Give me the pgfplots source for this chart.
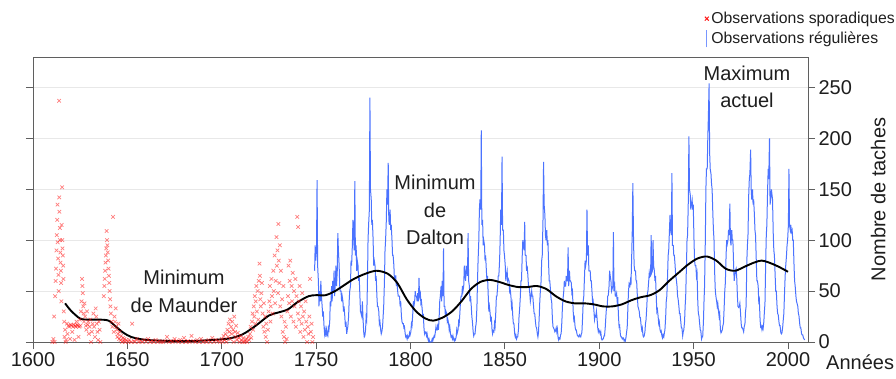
\documentclass[border=0pt]{standalone}
\usepackage{pgfplots}
\pgfplotsset{compat=1.18}
\usepackage{fontspec}
\setmainfont{Liberation Sans}
\definecolor{sporad}{RGB}{255,20,20}
\definecolor{regul}{RGB}{30,80,255}
\definecolor{axgray}{RGB}{95,95,95}
\definecolor{gridgray}{RGB}{232,232,232}
\definecolor{txt}{RGB}{30,30,30}
\begin{document}
\begin{tikzpicture}
\begin{axis}[
  name=ax,
  scale only axis,
  width=775pt, height=285pt,
  xmin=1600, xmax=2010.6, ymin=0, ymax=280,
  axis line style={axgray, line width=0.9pt},
  xtick={1600,1650,...,2000},
  ytick={0,50,...,250},
  xtick pos=bottom,
  ytick pos=both,
  yticklabel pos=right,
  tick align=outside,
  major tick length=7pt,
  tick style={axgray, line width=0.8pt},
  ymajorgrids, grid style={gridgray, line width=0.7pt},
  /pgf/number format/1000 sep={},
  /pgf/number format/assume math mode=true,
  tick label style={font=\fontsize{20}{24}\selectfont, text=txt},
  ylabel={Nombre de taches},
  every axis y label/.style={at={(axis description cs:1.0905,0.5)}, anchor=center, rotate=90, font=\fontsize{20}{24}\selectfont, text=txt},
  legend style={at={(axis description cs:0.866,1.165)}, anchor=north west, draw=none, fill=none, inner sep=0pt, font=\fontsize{15.8}{17}\selectfont, row sep=2pt, text=txt},
  legend cell align=left,
]
\addlegendimage{legend image code/.code={\draw[sporad, line width=1pt] (0.1cm,-0.07cm) -- (0.24cm,0.07cm) (0.1cm,0.07cm) -- (0.24cm,-0.07cm);}}
\addlegendentry{Observations sporadiques}
\addlegendimage{legend image code/.code={\draw[regul!60, line width=1.1pt] (0.17cm,-0.3cm) -- (0.17cm,0.32cm);}}
\addlegendentry{Observations régulières}

% sporadic observations
\addplot[only marks, mark=x, mark size=2.5pt, sporad, mark options={opacity=0.55, line width=0.7pt}, forget plot] coordinates {
(1610.3,0)(1610.8,3)(1611.2,25)(1611.5,0)(1611.7,45)(1612.0,60)(1612.2,72)(1612.4,90)(1612.6,105)(1612.8,120)(1613.0,135)(1613.1,98)(1613.3,82)(1613.5,66)(1613.6,50)(1613.8,237)(1613.9,142)(1614.0,128)(1614.2,112)(1614.3,100)(1614.5,88)(1614.6,78)(1614.8,70)(1614.9,58)(1615.0,40)(1615.2,115)(1615.4,152)(1615.5,100)(1615.6,92)(1615.8,85)(1616.0,75)(1616.1,62)(1616.3,30)(1616.5,20)(1616.7,5)(1617.0,12)(1617.3,0)(1617.6,2)(1618,18)(1618.3,8)
(1618.7,16)(1619.2,15)(1619.6,3)(1620,17)(1620.4,16)(1620.8,10)(1621.2,15)(1621.6,17)(1622,2)(1622.3,16)(1622.7,15)(1623,20)(1623.4,17)(1623.8,16)(1624.1,5)(1624.5,15)(1624.8,22)(1625.1,16)(1625.4,30)(1625.7,40)(1626,62)(1626.2,55)(1626.4,48)(1626.6,35)(1626.8,28)(1627,20)(1627.3,38)(1627.6,25)(1628,16)(1628.3,12)(1628.6,30)(1629,17)(1629.3,20)(1629.6,8)(1630,15)(1630.4,22)(1630.8,0)(1631.2,10)(1631.6,18)(1632,28)(1632.4,15)(1632.8,5)(1633.2,33)(1633.5,25)(1633.8,18)(1634.2,10)(1634.5,2)(1634.9,20)(1635.3,12)(1635.7,0)
(1637.5,45)(1637.8,55)(1638.0,62)(1638.2,70)(1638.4,78)(1638.6,85)(1638.8,92)(1639.0,109)(1639.2,100)(1639.4,95)(1639.6,88)(1639.8,80)(1640,72)(1640.2,65)(1640.4,58)(1640.6,50)(1640.8,42)(1641,35)(1641.3,28)(1641.6,20)(1642.0,15)(1642.4,123)
(1642.8,10)(1643.2,25)(1643.5,20)(1643.8,33)(1644.1,15)(1644.4,12)(1644.7,5)(1645,8)(1645.3,18)(1645.6,3)(1646,10)(1646.4,2)(1646.8,6)(1647.2,0)(1647.6,4)(1648,1)(1648.5,3)(1649,0)(1649.5,2)
(1650.5,0)(1651,2)(1652,0)(1652.5,18)(1653.5,1)(1654,0)(1655,3)(1656,0)(1657,1)(1658,0)(1659,2)(1660,0)(1661,3)(1662,0)(1663,1)(1664,0)(1665,2)(1666,0)(1667,1)(1668,0)(1669,0)(1670,1)(1671,5)(1672,0)(1673,1)(1674,0)(1675,3)(1676,1)(1677,0)(1678,2)(1679,0)(1680,4)(1681,0)(1682,1)(1683,0)(1684,6)(1685,1)(1686,0)(1687,2)(1688,0)(1689,3)(1690,0)(1691,1)(1692,0)(1693,2)(1694,0)(1695,4)(1696,0)(1697,2)(1698,1)(1699,0)
(1700,3)(1700.5,0)(1701,6)(1701.5,2)(1702,8)(1702.5,0)(1703,12)(1703.3,5)(1703.6,18)(1704,10)(1704.3,22)(1704.6,3)(1705,15)(1705.3,8)(1705.6,20)(1706,12)(1706.3,0)(1706.6,25)(1707,10)(1707.3,5)(1707.6,16)(1708,2)(1708.5,9)(1709,4)(1709.5,0)(1710,6)(1710.5,2)(1711,0)(1711.5,4)(1712,0)(1712.5,1)(1713,3)(1713.5,0)(1714,5)(1714.5,2)
(1715,8)(1715.3,15)(1715.6,4)(1716,20)(1716.3,28)(1716.6,12)(1717,35)(1717.2,25)(1717.5,45)(1717.8,18)(1718,40)(1718.3,55)(1718.6,30)(1719,50)(1719.3,22)(1719.6,60)(1720,77)(1720.2,65)(1720.4,42)(1720.7,35)(1721,48)(1721.3,58)(1721.6,28)(1722,15)(1722.3,38)(1722.6,10)(1723,25)(1723.3,5)(1723.6,18)(1724,0)(1724.4,12)(1724.8,30)
(1725.2,40)(1725.5,55)(1725.8,20)(1726,35)(1726.3,62)(1726.6,45)(1727,28)(1727.3,70)(1727.6,50)(1728,85)(1728.3,38)(1728.6,60)(1729,103)(1729.2,75)(1729.5,90)(1729.8,48)(1730,116)(1730.2,80)(1730.5,58)(1730.8,95)(1731,35)(1731.3,70)(1731.6,25)(1732,42)(1732.3,10)(1732.6,55)(1733,5)(1733.3,20)(1733.6,0)(1734,15)(1734.4,3)
(1734.8,30)(1735.1,45)(1735.4,75)(1735.7,38)(1736,60)(1736.3,80)(1736.6,25)(1737,55)(1737.3,40)(1737.6,68)(1738,20)(1738.3,50)(1738.6,35)(1739,62)(1739.3,15)(1739.6,45)(1740,123)(1740.3,28)(1740.5,113)(1740.8,40)(1741,22)(1741.3,55)(1741.6,10)(1742,35)(1742.3,18)(1742.6,48)(1743,25)(1743.3,5)(1743.6,30)(1744,12)(1744.4,40)(1744.8,20)(1745.2,0)(1745.6,15)(1746,8)(1746.4,25)(1746.8,62)(1747.2,10)(1747.6,18)(1748,0)(1748.4,5)
};

% regular observations
\addplot[regul, line width=1.0pt, opacity=0.8, forget plot] table[row sep=\\] {
t v\\
1749.2 70\\1749.5 95\\1749.8 80\\
1750.2 90\\1750.5 159\\1750.8 75\\
1751.2 60\\1751.5 35\\1751.8 50\\
1752.2 40\\1752.5 60\\1752.8 45\\
1753.2 35\\1753.5 25\\1753.8 30\\
1754.2 15\\1754.5 8\\1754.8 12\\
1755.2 5\\1755.5 12\\1755.8 8\\
1756.2 6\\1756.5 14\\1756.8 12\\
1757.2 20\\1757.5 40\\1757.8 35\\
1758.2 55\\1758.5 40\\1758.8 60\\
1759.2 50\\1759.5 70\\1759.8 45\\
1760.2 60\\1760.5 75\\1760.8 55\\
1761.2 70\\1761.5 107\\1761.8 90\\
1762.2 75\\1762.5 55\\1762.8 50\\
1763.2 50\\1763.5 40\\1763.8 45\\
1764.2 40\\1764.5 30\\1764.8 35\\
1765.2 25\\1765.5 15\\1765.8 20\\
1766.2 8\\1766.5 12\\1766.8 15\\
1767.2 25\\1767.5 40\\1767.8 50\\
1768.2 55\\1768.5 80\\1768.8 75\\
1769.2 95\\1769.5 120\\1769.8 105\\
1770.2 90\\1770.5 158\\1770.8 85\\
1771.2 95\\1771.5 70\\1771.8 80\\
1772.2 75\\1772.5 60\\1772.8 65\\
1773.2 45\\1773.5 30\\1773.8 28\\
1774.2 25\\1774.5 40\\1774.8 25\\
1775.2 10\\1775.5 5\\1775.8 6\\
1776.2 12\\1776.5 25\\1776.8 22\\
1777.2 60\\1777.5 100\\1777.8 115\\
1778.2 130\\1778.5 240\\1778.8 150\\
1779.2 140\\1779.5 115\\1779.8 120\\
1780.2 100\\1780.5 75\\1780.8 80\\
1781.2 75\\1781.5 60\\1781.8 65\\
1782.2 45\\1782.5 35\\1782.8 35\\
1783.2 30\\1783.5 18\\1783.8 20\\
1784.2 12\\1784.5 8\\1784.8 10\\
1785.2 15\\1785.5 25\\1785.8 35\\
1786.2 60\\1786.5 90\\1786.8 100\\
1787.2 120\\1787.5 150\\1787.8 135\\
1788.2 176\\1788.5 120\\1788.8 115\\
1789.2 130\\1789.5 110\\1789.8 115\\
1790.2 100\\1790.5 85\\1790.8 85\\
1791.2 75\\1791.5 60\\1791.8 65\\
1792.2 65\\1792.5 55\\1792.8 60\\
1793.2 50\\1793.5 45\\1793.8 45\\
1794.2 45\\1794.5 35\\1794.8 40\\
1795.2 25\\1795.5 20\\1795.8 18\\
1796.2 18\\1796.5 14\\1796.8 15\\
1797.2 8\\1797.5 5\\1797.8 6\\
1798.2 3\\1798.5 6\\1798.8 4\\
1799.2 5\\1799.5 9\\1799.8 7\\
1800.2 10\\1800.5 18\\1800.8 16\\
1801.2 28\\1801.5 40\\1801.8 35\\
1802.2 40\\1802.5 50\\1802.8 45\\
1803.2 45\\1803.5 40\\1803.8 48\\
1804.2 40\\1804.5 63\\1804.8 45\\
1805.2 48\\1805.5 38\\1805.8 40\\
1806.2 32\\1806.5 25\\1806.8 26\\
1807.2 12\\1807.5 8\\1807.8 10\\
1808.2 10\\1808.5 6\\1808.8 8\\
1809.2 3\\1809.5 1\\1809.8 3\\
1810.2 0\\1810.5 0\\1810.8 0\\
1811.2 1\\1811.5 3\\1811.8 1\\
1812.2 4\\1812.5 6\\1812.8 5\\
1813.2 10\\1813.5 15\\1813.8 12\\
1814.2 12\\1814.5 18\\1814.8 12\\
1815.2 25\\1815.5 40\\1815.8 45\\
1816.2 55\\1816.5 40\\1816.8 60\\
1817.2 45\\1817.5 92\\1817.8 35\\
1818.2 35\\1818.5 25\\1818.8 30\\
1819.2 28\\1819.5 20\\1819.8 22\\
1820.2 18\\1820.5 12\\1820.8 15\\
1821.2 8\\1821.5 5\\1821.8 6\\
1822.2 3\\1822.5 6\\1822.8 3\\
1823.2 1\\1823.5 3\\1823.8 2\\
1824.2 5\\1824.5 12\\1824.8 9\\
1825.2 12\\1825.5 20\\1825.8 18\\
1826.2 30\\1826.5 40\\1826.8 45\\
1827.2 45\\1827.5 55\\1827.8 50\\
1828.2 55\\1828.5 75\\1828.8 65\\
1829.2 60\\1829.5 75\\1829.8 70\\
1830.2 65\\1830.5 107\\1830.8 60\\
1831.2 55\\1831.5 40\\1831.8 45\\
1832.2 35\\1832.5 25\\1832.8 20\\
1833.2 10\\1833.5 6\\1833.8 8\\
1834.2 8\\1834.5 15\\1834.8 18\\
1835.2 35\\1835.5 60\\1835.8 80\\
1836.2 100\\1836.5 130\\1836.8 140\\
1837.2 130\\1837.5 208\\1837.8 115\\
1838.2 120\\1838.5 95\\1838.8 100\\
1839.2 95\\1839.5 80\\1839.8 85\\
1840.2 70\\1840.5 60\\1840.8 65\\
1841.2 45\\1841.5 30\\1841.8 35\\
1842.2 28\\1842.5 20\\1842.8 25\\
1843.2 12\\1843.5 8\\1843.8 11\\
1844.2 10\\1844.5 18\\1844.8 15\\
1845.2 30\\1845.5 45\\1845.8 45\\
1846.2 55\\1846.5 65\\1846.8 65\\
1847.2 80\\1847.5 100\\1847.8 130\\
1848.2 115\\1848.5 182\\1848.8 110\\
1849.2 110\\1849.5 90\\1849.8 85\\
1850.2 75\\1850.5 60\\1850.8 65\\
1851.2 70\\1851.5 60\\1851.8 62\\
1852.2 60\\1852.5 50\\1852.8 52\\
1853.2 45\\1853.5 35\\1853.8 38\\
1854.2 25\\1854.5 18\\1854.8 18\\
1855.2 8\\1855.5 5\\1855.8 7\\
1856.2 3\\1856.5 5\\1856.8 5\\
1857.2 12\\1857.5 25\\1857.8 32\\
1858.2 45\\1858.5 60\\1858.8 60\\
1859.2 85\\1859.5 100\\1859.8 95\\
1860.2 90\\1860.5 118\\1860.8 85\\
1861.2 85\\1861.5 70\\1861.8 75\\
1862.2 65\\1862.5 55\\1862.8 55\\
1863.2 48\\1863.5 40\\1863.8 44\\
1864.2 50\\1864.5 45\\1864.8 45\\
1865.2 35\\1865.5 28\\1865.8 28\\
1866.2 20\\1866.5 15\\1866.8 14\\
1867.2 8\\1867.5 5\\1867.8 9\\
1868.2 25\\1868.5 40\\1868.8 50\\
1869.2 60\\1869.5 80\\1869.8 85\\
1870.2 120\\1870.5 177\\1870.8 135\\
1871.2 125\\1871.5 105\\1871.8 100\\
1872.2 110\\1872.5 95\\1872.8 100\\
1873.2 75\\1873.5 60\\1873.8 60\\
1874.2 50\\1874.5 42\\1874.8 40\\
1875.2 22\\1875.5 15\\1875.8 14\\
1876.2 12\\1876.5 10\\1876.8 11\\
1877.2 14\\1877.5 10\\1877.8 13\\
1878.2 4\\1878.5 2\\1878.8 4\\
1879.2 3\\1879.5 7\\1879.8 8\\
1880.2 20\\1880.5 35\\1880.8 42\\
1881.2 50\\1881.5 60\\1881.8 55\\
1882.2 55\\1882.5 65\\1882.8 60\\
1883.2 60\\1883.5 93\\1883.8 55\\
1884.2 70\\1884.5 60\\1884.8 60\\
1885.2 58\\1885.5 48\\1885.8 50\\
1886.2 30\\1886.5 22\\1886.8 24\\
1887.2 15\\1887.5 12\\1887.8 12\\
1888.2 8\\1888.5 6\\1888.8 6\\
1889.2 5\\1889.5 7\\1889.8 6\\
1890.2 5\\1890.5 8\\1890.8 9\\
1891.2 25\\1891.5 40\\1891.8 45\\
1892.2 65\\1892.5 80\\1892.8 75\\
1893.2 80\\1893.5 130\\1893.8 85\\
1894.2 95\\1894.5 70\\1894.8 70\\
1895.2 70\\1895.5 60\\1895.8 60\\
1896.2 48\\1896.5 38\\1896.8 40\\
1897.2 30\\1897.5 22\\1897.8 26\\
1898.2 25\\1898.5 30\\1898.8 24\\
1899.2 14\\1899.5 10\\1899.8 12\\
1900.2 10\\1900.5 8\\1900.8 10\\
1901.2 3\\1901.5 2\\1901.8 3\\
1902.2 3\\1902.5 6\\1902.8 6\\
1903.2 15\\1903.5 25\\1903.8 33\\
1904.2 35\\1904.5 45\\1904.8 46\\
1905.2 55\\1905.5 70\\1905.8 65\\
1906.2 60\\1906.5 50\\1906.8 52\\
1907.2 55\\1907.5 108\\1907.8 50\\
1908.2 55\\1908.5 45\\1908.8 45\\
1909.2 48\\1909.5 40\\1909.8 44\\
1910.2 25\\1910.5 15\\1910.8 16\\
1911.2 7\\1911.5 5\\1911.8 5\\
1912.2 3\\1912.5 4\\1912.8 4\\
1913.2 1\\1913.5 2\\1913.8 1\\
1914.2 5\\1914.5 10\\1914.8 14\\
1915.2 35\\1915.5 50\\1915.8 57\\
1916.2 55\\1916.5 60\\1916.8 56\\
1917.2 85\\1917.5 110\\1917.8 156\\
1918.2 95\\1918.5 75\\1918.8 70\\
1919.2 70\\1919.5 60\\1919.8 60\\
1920.2 45\\1920.5 35\\1920.8 33\\
1921.2 30\\1921.5 24\\1921.8 24\\
1922.2 16\\1922.5 12\\1922.8 14\\
1923.2 6\\1923.5 5\\1923.8 6\\
1924.2 10\\1924.5 18\\1924.8 22\\
1925.2 35\\1925.5 48\\1925.8 50\\
1926.2 60\\1926.5 68\\1926.8 64\\
1927.2 65\\1927.5 105\\1927.8 68\\
1928.2 70\\1928.5 100\\1928.8 75\\
1929.2 70\\1929.5 60\\1929.8 65\\
1930.2 45\\1930.5 30\\1930.8 32\\
1931.2 25\\1931.5 18\\1931.8 20\\
1932.2 12\\1932.5 10\\1932.8 11\\
1933.2 6\\1933.5 4\\1933.8 7\\
1934.2 5\\1934.5 9\\1934.8 12\\
1935.2 25\\1935.5 40\\1935.8 45\\
1936.2 65\\1936.5 85\\1936.8 90\\
1937.2 110\\1937.5 125\\1937.8 110\\
1938.2 105\\1938.5 166\\1938.8 95\\
1939.2 95\\1939.5 85\\1939.8 85\\
1940.2 75\\1940.5 65\\1940.8 62\\
1941.2 55\\1941.5 45\\1941.8 42\\
1942.2 35\\1942.5 28\\1942.8 28\\
1943.2 20\\1943.5 14\\1943.8 14\\
1944.2 6\\1944.5 10\\1944.8 12\\
1945.2 20\\1945.5 35\\1945.8 45\\
1946.2 75\\1946.5 100\\1946.8 105\\
1947.2 140\\1947.5 202\\1947.8 150\\
1948.2 145\\1948.5 130\\1948.8 135\\
1949.2 140\\1949.5 130\\1949.8 135\\
1950.2 100\\1950.5 80\\1950.8 75\\
1951.2 75\\1951.5 65\\1951.8 68\\
1952.2 40\\1952.5 28\\1952.8 26\\
1953.2 18\\1953.5 12\\1953.8 11\\
1954.2 3\\1954.5 5\\1954.8 5\\
1955.2 20\\1955.5 40\\1955.8 55\\
1956.2 100\\1956.5 150\\1956.8 170\\
1957.2 170\\1957.5 200\\1957.8 220\\
1958.2 254\\1958.5 185\\1958.8 170\\
1959.2 165\\1959.5 155\\1959.8 150\\
1960.2 125\\1960.5 110\\1960.8 100\\
1961.2 65\\1961.5 50\\1961.8 45\\
1962.2 40\\1962.5 35\\1962.8 38\\
1963.2 30\\1963.5 25\\1963.8 28\\
1964.2 12\\1964.5 9\\1964.8 10\\
1965.2 12\\1965.5 16\\1965.8 18\\
1966.2 35\\1966.5 50\\1966.8 58\\
1967.2 85\\1967.5 100\\1967.8 96\\
1968.2 100\\1968.5 110\\1968.8 105\\
1969.2 136\\1969.5 100\\1969.8 95\\
1970.2 110\\1970.5 100\\1970.8 100\\
1971.2 75\\1971.5 60\\1971.8 65\\
1972.2 70\\1972.5 72\\1972.8 65\\
1973.2 45\\1973.5 35\\1973.8 34\\
1974.2 35\\1974.5 38\\1974.8 30\\
1975.2 18\\1975.5 14\\1975.8 14\\
1976.2 12\\1976.5 10\\1976.8 15\\
1977.2 18\\1977.5 30\\1977.8 35\\
1978.2 80\\1978.5 95\\1978.8 105\\
1979.2 145\\1979.5 160\\1979.8 165\\
1980.2 189\\1980.5 150\\1980.8 140\\
1981.2 150\\1981.5 135\\1981.8 140\\
1982.2 125\\1982.5 110\\1982.8 105\\
1983.2 80\\1983.5 60\\1983.8 60\\
1984.2 55\\1984.5 40\\1984.8 42\\
1985.2 22\\1985.5 15\\1985.8 16\\
1986.2 12\\1986.5 15\\1986.8 13\\
1987.2 20\\1987.5 30\\1987.8 38\\
1988.2 80\\1988.5 105\\1988.8 115\\
1989.2 150\\1989.5 170\\1989.8 160\\
1990.2 200\\1990.5 135\\1990.8 140\\
1991.2 150\\1991.5 145\\1991.8 140\\
1992.2 105\\1992.5 90\\1992.8 85\\
1993.2 65\\1993.5 50\\1993.8 50\\
1994.2 35\\1994.5 28\\1994.8 27\\
1995.2 20\\1995.5 16\\1995.8 16\\
1996.2 9\\1996.5 8\\1996.8 9\\
1997.2 15\\1997.5 22\\1997.8 28\\
1998.2 50\\1998.5 65\\1998.8 75\\
1999.2 85\\1999.5 95\\1999.8 100\\
2000.2 115\\2000.5 170\\2000.8 115\\
2001.2 110\\2001.5 115\\2001.8 108\\
2002.2 110\\2002.5 100\\2002.8 100\\
2003.2 75\\2003.5 60\\2003.8 55\\
2004.2 45\\2004.5 40\\2004.8 38\\
2005.2 35\\2005.5 28\\2005.8 26\\
2006.2 18\\2006.5 14\\2006.8 14\\
2007.2 8\\2007.5 7\\2007.8 7\\
2008.2 4\\2008.5 3\\2008.8 2\\
};

% smoothed mean
\addplot[black, line width=1.9pt, smooth, forget plot] coordinates {
(1617,38)(1620,31)(1625,23)(1630,22)(1635,22)(1640,21)(1644,15)(1648,9)(1652,5)(1658,2.5)(1665,1.5)(1675,1)(1685,1)(1695,2)(1704,3.5)(1711,7.5)(1718,16)(1725,26)(1730,29)(1735,32)(1740,39)(1746,45)(1750,46)(1755,46)(1760,50)(1765,56)(1770,62)(1776,67)(1782,70)(1788,67)(1793,58)(1798,42)(1803,30)(1808,23)(1812,21)(1817,24)(1822,30)(1827,40)(1832,52)(1837,59)(1842,61)(1847,59)(1852,56)(1857,54)(1862,54)(1867,55)(1872,52)(1877,45)(1882,40)(1887,38)(1892,38)(1897,37)(1902,35)(1907,35)(1912,37)(1917,41)(1922,44)(1927,46)(1932,51)(1937,60)(1942,68)(1947,76)(1952,82)(1957,84)(1962,80)(1967,72)(1972,70)(1977,74)(1982,78)(1986,80)(1990,78)(1995,74)(2000,69)
};
\end{axis}
\node[align=center, font=\fontsize{20}{28}\selectfont, text=txt] at ([xshift=151pt, yshift=51pt]ax.south west) {Minimum\\de Maunder};
\node[align=center, font=\fontsize{20}{27.5}\selectfont, text=txt] at ([xshift=402pt, yshift=132pt]ax.south west) {Minimum\\de\\Dalton};
\node[align=center, font=\fontsize{20}{27}\selectfont, text=txt] at ([xshift=714pt, yshift=255pt]ax.south west) {Maximum\\actuel};
\node[anchor=base west, inner sep=0pt, font=\fontsize{20}{24}\selectfont, text=txt] at ([xshift=18pt, yshift=-27pt]ax.south east) {Années};
\pgfresetboundingbox
\path ([xshift=-33pt, yshift=-36pt]ax.south west) rectangle ([xshift=88pt, yshift=57pt]ax.north east);
\end{tikzpicture}
\end{document}
